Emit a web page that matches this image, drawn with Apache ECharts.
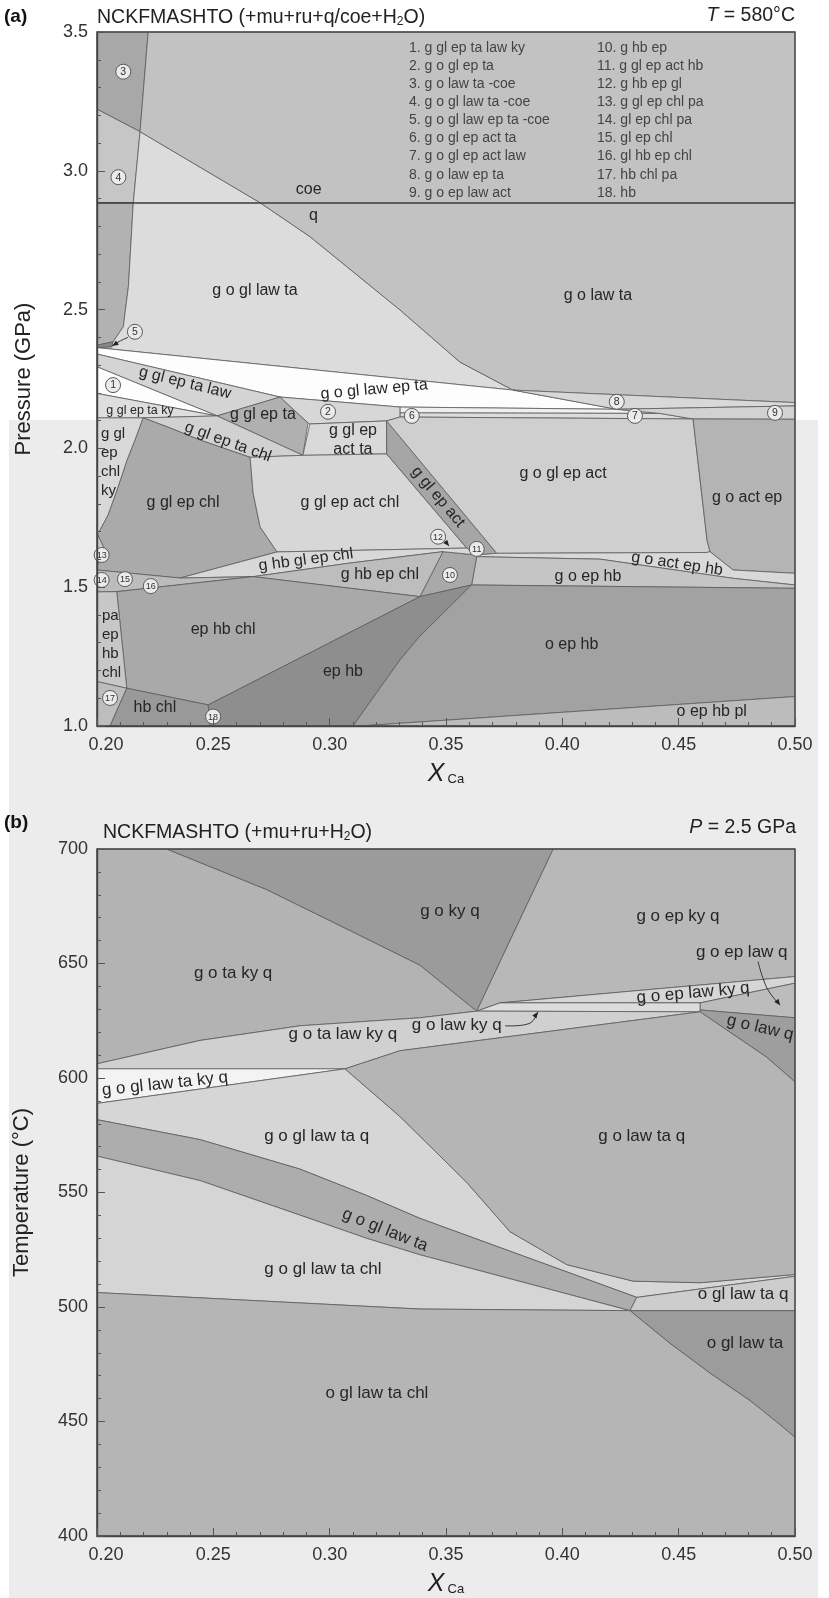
<!DOCTYPE html>
<html><head><meta charset="utf-8">
<script src="https://cdn.jsdelivr.net/npm/echarts@6.0.0/dist/echarts.min.js"></script>
<style>html,body{margin:0;padding:0;background:#fff;}#c{width:829px;height:1598px;}</style>
</head><body><div id="c"></div>
<script>
// ---------- axis ranges ----------
const xRange = [0.20, 0.50];
const pRange = [1.0, 3.5];
const tRange = [400, 700];
const coeQ = [[0.20, 2.884], [0.50, 2.884]];

// ---------- panel (a): field polygons [XCa, P(GPa)] ----------
const A_r3 = [[0.2,3.5],[0.2220,3.5],[0.2185,3.141],[0.2,3.222]];
const A_r4a = [[0.2,3.222],[0.2185,3.141],[0.2156,2.885],[0.2,2.885]];
const A_r4b = [[0.2,2.885],[0.2156,2.885],[0.2135,2.583],[0.2113,2.438],[0.2069,2.384],[0.2,2.372]];
const A_r5 = [[0.2,2.372],[0.2069,2.384],[0.2064,2.365],[0.2,2.363]];
const A_goglLawTa = [[0.2185,3.141],[0.2701,2.885],[0.2915,2.763],[0.3302,2.499],[0.3560,2.311],[0.3788,2.210],[0.2,2.363],[0.2064,2.365],[0.2069,2.384],[0.2113,2.438],[0.2135,2.583],[0.2156,2.885]];
const A_goLawTa = [[0.2220,3.5],[0.5,3.5],[0.5,2.165],[0.3788,2.210],[0.3560,2.311],[0.3302,2.499],[0.2915,2.763],[0.2701,2.885],[0.2185,3.141]];
const A_goglLawEpTa = [[0.2,2.363],[0.3788,2.210],[0.4234,2.141],[0.3302,2.149],[0.2787,2.185],[0.2,2.340]];
const A_r8 = [[0.3788,2.210],[0.5,2.165],[0.5,2.153],[0.4234,2.141]];
const A_r6 = [[0.3302,2.149],[0.4234,2.141],[0.4420,2.126],[0.3302,2.128]];
const A_r7 = [[0.3302,2.128],[0.4420,2.126],[0.4562,2.106],[0.3302,2.113]];
const A_r9 = [[0.4234,2.141],[0.5,2.153],[0.5,2.105],[0.4562,2.106],[0.4420,2.126]];
const A_gglEpTaLaw = [[0.2,2.340],[0.2787,2.185],[0.2516,2.117],[0.2,2.294]];
const A_r1 = [[0.2,2.294],[0.2516,2.117],[0.2,2.198]];
const A_gglEpTaKy = [[0.2,2.198],[0.2516,2.117],[0.2198,2.110],[0.2,2.110]];
const A_gglEpTa = [[0.2516,2.117],[0.2787,2.185],[0.2907,2.092],[0.2885,1.975]];
const A_r2 = [[0.2787,2.185],[0.3302,2.149],[0.3302,2.113],[0.3245,2.099],[0.2915,2.088],[0.2907,2.092]];
const A_gglEpActTa = [[0.2915,2.088],[0.3245,2.099],[0.3245,1.980],[0.2885,1.975]];
const A_gglEpTaChl = [[0.2198,2.110],[0.2516,2.117],[0.2885,1.975],[0.2658,1.968],[0.2443,2.030],[0.2301,2.078]];
const A_gglEpChl = [[0.2198,2.110],[0.2301,2.078],[0.2443,2.030],[0.2658,1.968],[0.2671,1.839],[0.2701,1.717],[0.2774,1.627],[0.2357,1.533],[0.2,1.562],[0.2,1.576],[0.2030,1.641],[0.2,1.695],[0.2013,1.706],[0.2047,1.760],[0.2086,1.850],[0.2129,1.958],[0.2163,2.030]];
const A_gglEpChlKy = [[0.2,2.110],[0.2198,2.110],[0.2163,2.030],[0.2129,1.958],[0.2086,1.850],[0.2047,1.760],[0.2013,1.706],[0.2,1.695]];
const A_r13 = [[0.2,1.695],[0.2030,1.641],[0.2,1.576]];
const A_gglEpActChl = [[0.2658,1.968],[0.2885,1.975],[0.3245,1.980],[0.3589,1.641],[0.2774,1.627],[0.2701,1.717],[0.2671,1.839]];
const A_gglEpAct = [[0.3245,2.099],[0.3718,1.622],[0.3632,1.616],[0.3589,1.641],[0.3245,1.980]];
const A_goglEpAct = [[0.3245,2.099],[0.3302,2.113],[0.4562,2.106],[0.4622,1.670],[0.4635,1.628],[0.4620,1.625],[0.3718,1.622]];
const A_goActEp = [[0.4562,2.106],[0.5,2.105],[0.5,1.550],[0.4734,1.562],[0.4635,1.628],[0.4622,1.670]];
const A_goActEpHb = [[0.3632,1.616],[0.3718,1.622],[0.4620,1.625],[0.4635,1.628],[0.4734,1.562],[0.5,1.550],[0.5,1.508],[0.4734,1.532],[0.4162,1.601],[0.3632,1.610]];
const A_goEpHb = [[0.3632,1.610],[0.4162,1.601],[0.4734,1.532],[0.5,1.508],[0.5,1.496],[0.3610,1.508]];
const A_r10 = [[0.3487,1.628],[0.3632,1.616],[0.3632,1.610],[0.3610,1.508],[0.3388,1.466]];
const A_ghbglEpChl = [[0.2357,1.533],[0.2774,1.627],[0.3589,1.641],[0.3632,1.616],[0.3487,1.628],[0.3087,1.587],[0.2671,1.538]];
const A_ghbEpChl = [[0.2671,1.538],[0.3087,1.587],[0.3487,1.628],[0.3388,1.466]];
const A_r141516 = [[0.2,1.562],[0.2357,1.533],[0.2671,1.538],[0.2085,1.484],[0.2,1.483]];
const A_epHbChl = [[0.2085,1.484],[0.2671,1.538],[0.3388,1.466],[0.2478,1.076],[0.2128,1.136]];
const A_paEpHbChl = [[0.2,1.483],[0.2085,1.484],[0.2128,1.136],[0.2,1.160]];
const A_r17 = [[0.2,1.160],[0.2128,1.136],[0.2056,1.0],[0.2,1.0]];
const A_hbChl = [[0.2128,1.136],[0.2478,1.076],[0.2486,1.0],[0.2056,1.0]];
const A_epHb = [[0.3388,1.466],[0.3610,1.508],[0.3388,1.324],[0.3302,1.238],[0.3100,1.0],[0.2486,1.0],[0.2478,1.076]];
const A_oEpHb = [[0.3610,1.508],[0.5,1.496],[0.5,1.106],[0.3130,1.0],[0.3100,1.0],[0.3302,1.238],[0.3388,1.324]];
const A_oEpHbPl = [[0.3130,1.0],[0.5,1.106],[0.5,1.0]];

const panelA = [
  ['r3',A_r3],['r4a',A_r4a],['r4b',A_r4b],['r5',A_r5],['goglLawTa',A_goglLawTa],['goLawTa',A_goLawTa],
  ['goglLawEpTa',A_goglLawEpTa],['r8',A_r8],['r6',A_r6],['r7',A_r7],['r9',A_r9],['gglEpTaLaw',A_gglEpTaLaw],
  ['r1',A_r1],['gglEpTaKy',A_gglEpTaKy],['gglEpTa',A_gglEpTa],['r2',A_r2],['gglEpActTa',A_gglEpActTa],
  ['gglEpTaChl',A_gglEpTaChl],['gglEpChl',A_gglEpChl],['gglEpChlKy',A_gglEpChlKy],['r13',A_r13],
  ['gglEpActChl',A_gglEpActChl],['gglEpAct',A_gglEpAct],['goglEpAct',A_goglEpAct],['goActEp',A_goActEp],
  ['goActEpHb',A_goActEpHb],['goEpHb',A_goEpHb],['r10',A_r10],['ghbglEpChl',A_ghbglEpChl],['ghbEpChl',A_ghbEpChl],
  ['r141516',A_r141516],['epHbChl',A_epHbChl],['paEpHbChl',A_paEpHbChl],['r17',A_r17],['hbChl',A_hbChl],
  ['epHb',A_epHb],['oEpHb',A_oEpHb],['oEpHbPl',A_oEpHbPl]
];

// ---------- panel (b): field polygons [XCa, T(°C)] ----------
const B_goTaKyQ = [[0.2,700],[0.2300,700],[0.2729,682.3],[0.3014,668.1],[0.3388,649.3],[0.3632,629.2],[0.3388,626.3],[0.2873,622.8],[0.2443,616.4],[0.2,606.2]];
const B_goKyQ = [[0.2300,700],[0.3961,700],[0.3632,629.2],[0.3388,649.3],[0.3014,668.1],[0.2729,682.3]];
const B_goEpKyQ = [[0.3961,700],[0.5,700],[0.5,644.3],[0.3732,632.8],[0.3632,629.2]];
const B_goEpLawKyQ = [[0.3732,632.8],[0.5,644.3],[0.5,641.4],[0.4592,632.8]];
const B_goEpLawQ = [[0.4592,632.8],[0.5,641.4],[0.5,626.3],[0.4592,629.7]];
const B_goLawKyQ = [[0.3632,629.2],[0.3732,632.8],[0.4592,632.8],[0.4592,628.9]];
const B_goLawQ = [[0.4592,629.7],[0.5,626.3],[0.5,598.3],[0.4878,609.1],[0.4592,628.9]];
const B_goTaLawKyQ = [[0.2,606.2],[0.2443,616.4],[0.2873,622.8],[0.3388,626.3],[0.3632,629.2],[0.4592,628.9],[0.3302,611.9],[0.3066,604.0],[0.2,604.0]];
const B_goglLawTaKyQ = [[0.2,604.0],[0.3066,604.0],[0.2,588.9]];
const B_goglLawTaQ = [[0.2,588.9],[0.3066,604.0],[0.3302,583.2],[0.3388,574.6],[0.3589,554.4],[0.3775,532.9],[0.4019,518.5],[0.4304,511.3],[0.4592,510.6],[0.5,514.2],[0.5,513.4],[0.4320,504.2],[0.3388,538.7],[0.3159,548.7],[0.2873,560.2],[0.2443,573.1],[0.2,581.8]];
const B_goLawTaQ = [[0.3066,604.0],[0.3302,611.9],[0.4592,628.9],[0.4878,609.1],[0.5,598.3],[0.5,514.2],[0.4592,510.6],[0.4304,511.3],[0.4019,518.5],[0.3775,532.9],[0.3589,554.4],[0.3388,574.6],[0.3302,583.2]];
const B_goglLawTa = [[0.2,581.8],[0.2443,573.1],[0.2873,560.2],[0.3159,548.7],[0.3388,538.7],[0.4320,504.2],[0.4291,498.4],[0.3388,522.8],[0.3159,530.0],[0.2873,540.1],[0.2443,555.2],[0.2,565.9]];
const B_oglLawTaQ = [[0.4320,504.2],[0.5,513.4],[0.5,498.4],[0.4291,498.4]];
const B_goglLawTaChl = [[0.2,565.9],[0.2443,555.2],[0.2873,540.1],[0.3159,530.0],[0.3388,522.8],[0.4291,498.4],[0.3388,499.1],[0.2,506.3]];
const B_oglLawTa = [[0.4291,498.4],[0.5,498.4],[0.5,443.1],[0.4914,450.4],[0.4807,459.1],[0.4635,471.1],[0.4463,484.1]];
const B_oglLawTaChl = [[0.2,506.3],[0.3388,499.1],[0.4291,498.4],[0.4463,484.1],[0.4635,471.1],[0.4807,459.1],[0.4914,450.4],[0.5,443.1],[0.5,400],[0.2,400]];

const panelB = [
  ['goTaKyQ',B_goTaKyQ],['goKyQ',B_goKyQ],['goEpKyQ',B_goEpKyQ],['goEpLawKyQ',B_goEpLawKyQ],['goEpLawQ',B_goEpLawQ],
  ['goLawKyQ',B_goLawKyQ],['goLawQ',B_goLawQ],['goTaLawKyQ',B_goTaLawKyQ],['goglLawTaKyQ',B_goglLawTaKyQ],
  ['goglLawTaQ',B_goglLawTaQ],['goLawTaQ',B_goLawTaQ],['goglLawTa',B_goglLawTa],['oglLawTaQ',B_oglLawTaQ],
  ['goglLawTaChl',B_goglLawTaChl],['oglLawTa',B_oglLawTa],['oglLawTaChl',B_oglLawTaChl]
];

// ---------- labels [text, XCa, P or T] ----------
const labelsA = [
  ['coe',0.291,2.931],['q',0.293,2.837],['g o gl law ta',0.2679,2.567],['g o law ta',0.4153,2.549],
  ['g o gl law ep ta',0.3191,2.212],['g gl ep ta law',0.2378,2.236],['g gl ep ta',0.2713,2.120],
  ['g gl ep ta chl',0.2563,2.023],['g gl ep\nact ta',0.3100,2.030],['g gl ep chl',0.2370,1.803],
  ['g gl ep act chl',0.3087,1.803],['g gl ep act',0.3466,1.825],['g o gl ep act',0.4003,1.911],
  ['g o act ep',0.4794,1.821],['g hb gl ep chl',0.2898,1.598],['g hb ep chl',0.3216,1.544],
  ['g o act ep hb',0.4493,1.584],['g o ep hb',0.4110,1.538],['ep hb chl',0.2542,1.346],['ep hb',0.3057,1.196],
  ['o ep hb',0.4040,1.292],['o ep hb pl',0.4642,1.052],['hb chl',0.2249,1.065]
];
const smallLabelsA = [['g gl ep ta ky',0.2185,2.138]];
const stackLabelsA = [['g gl\nep\nchl\nky',0.2017,1.951],['pa\nep\nhb\nchl',0.2021,1.295]];
const circlesA = [
  [1,0.2069,2.228],[2,0.2993,2.132],[3,0.2113,3.357],[4,0.2092,2.977],[5,0.2163,2.420],[6,0.3353,2.117],
  [7,0.4312,2.117],[8,0.4234,2.168],[9,0.4914,2.128],[10,0.3517,1.544],[11,0.3632,1.638],[12,0.3466,1.682],
  [13,0.2020,1.616],[14,0.2020,1.526],[15,0.2120,1.529],[16,0.2231,1.504],[17,0.2056,1.101],[18,0.2499,1.034]
];
const leadersA = [
  [[0.2133,2.400],[0.2095,2.385],[0.2066,2.369]],
  [[0.3490,1.672],[0.3513,1.648]]
];
const legendA = [
  '1. g gl ep ta law ky','2. g o gl ep ta','3. g o law ta -coe','4. g o gl law ta -coe','5. g o gl law ep ta -coe',
  '6. g o gl ep act ta','7. g o gl ep act law','8. g o law ep ta','9. g o ep law act',
  '10. g hb ep','11. g gl ep act hb','12. g hb ep gl','13. g gl ep chl pa','14. gl ep chl pa',
  '15. gl ep chl','16. gl hb ep chl','17. hb chl pa','18. hb'
];

const labelsB = [
  ['g o ky q',0.3517,673.0],['g o ep ky q',0.4497,670.8],['g o ta ky q',0.2585,645.7],['g o ep law q',0.4771,655.0],
  ['g o ep law ky q',0.4562,637.1],['g o law ky q',0.3546,622.8],['g o ta law ky q',0.3057,619.1],
  ['g o law q',0.4850,622.0],['g o gl law ta ky q',0.2292,597.4],['g o gl law ta q',0.2944,574.6],
  ['g o law ta q',0.4341,574.6],['g o gl law ta',0.3238,533.6],['g o gl law ta chl',0.2971,516.4],
  ['o gl law ta q',0.4777,505.6],['o gl law ta',0.4785,484.1],['o gl law ta chl',0.3203,462.5]
];
const leadersB = [
  [[0.3754,622.8],[0.3860,623.9],[0.3895,628.8]],
  [[0.4841,650.9],[0.4880,639.2],[0.4936,631.8]]
];

// ---------- styles ----------
const FONT = "'Liberation Sans', Arial, Helvetica, sans-serif";
const fillA = {r3:'#a8a8a8',r4a:'#c6c6c6',r4b:'#b2b2b2',r5:'#888888',goglLawTa:'#dcdcdc',goLawTa:'#c2c2c2',
  goglLawEpTa:'#fdfdfd',r8:'#d8d8d8',r6:'#efefef',r7:'#dcdcdc',r9:'#d2d2d2',gglEpTaLaw:'#d4d4d4',r1:'#fdfdfd',
  gglEpTaKy:'#dedede',gglEpTa:'#b0b0b0',r2:'#d7d7d7',gglEpActTa:'#d9d9d9',gglEpTaChl:'#d1d1d1',gglEpChl:'#aaaaaa',
  gglEpChlKy:'#d8d8d8',r13:'#c8c8c8',gglEpActChl:'#d7d7d7',gglEpAct:'#a6a6a6',goglEpAct:'#cfcfcf',goActEp:'#b4b4b4',
  goActEpHb:'#d9d9d9',goEpHb:'#c5c5c5',r10:'#a9a9a9',ghbglEpChl:'#d8d8d8',ghbEpChl:'#bdbdbd',r141516:'#bcbcbc',
  epHbChl:'#a9a9a9',paEpHbChl:'#c7c7c7',r17:'#bdbdbd',hbChl:'#999999',epHb:'#8e8e8e',oEpHb:'#a2a2a2',oEpHbPl:'#bcbcbc'};
const fillB = {goTaKyQ:'#b3b3b3',goKyQ:'#9b9b9b',goEpKyQ:'#b8b8b8',goEpLawKyQ:'#d6d6d6',goEpLawQ:'#bcbcbc',
  goLawKyQ:'#dcdcdc',goLawQ:'#9e9e9e',goTaLawKyQ:'#d0d0d0',goglLawTaKyQ:'#f3f3f3',goglLawTaQ:'#d6d6d6',
  goLawTaQ:'#b5b5b5',goglLawTa:'#adadad',oglLawTaQ:'#cdcdcd',goglLawTaChl:'#d5d5d5',oglLawTa:'#9c9c9c',oglLawTaChl:'#b5b5b5'};
const rotA = {'g o gl law ep ta':-5,'g gl ep ta law':14,'g gl ep ta chl':20,'g gl ep act':50,'g hb gl ep chl':-7.5,'g o act ep hb':8.5};
const rotB = {'g o ep law ky q':-5,'g o law q':13,'g o gl law ta ky q':-6,'g o gl law ta':22};

// ---------- series builders ----------
function polySeries(gi, list, fills){
  return {type:'custom', xAxisIndex:gi, yAxisIndex:gi, z:2, silent:true, animation:false,
    data:list.map(r=>r[1][0]),
    renderItem:(p,api)=>{const r=list[p.dataIndex];
      return {type:'polygon', shape:{points:r[1].map(q=>api.coord(q))},
        style:{fill:fills[r[0]], stroke:'#5c5c5c', lineWidth:0.8}};}};
}
function labelSeries(gi, list, rot, size, align, lh){
  return {type:'custom', xAxisIndex:gi, yAxisIndex:gi, z:6, silent:true, animation:false,
    data:list.map(l=>[l[1],l[2]]),
    renderItem:(p,api)=>{const l=list[p.dataIndex]; const c=api.coord([l[1],l[2]]); const d=(rot&&rot[l[0]])||0;
      return {type:'text', x:c[0], y:c[1], rotation:-d*Math.PI/180,
        style:{text:l[0], fill:'#262626', fontSize:size, fontFamily:FONT, align:align||'center', textAlign:align||'center',
          verticalAlign:'middle', textVerticalAlign:'middle', lineHeight:lh||size*1.2}};}};
}
function circleSeries(gi, list){
  return {type:'custom', xAxisIndex:gi, yAxisIndex:gi, z:7, silent:true, animation:false,
    data:list.map(l=>[l[1],l[2]]),
    renderItem:(p,api)=>{const l=list[p.dataIndex]; const c=api.coord([l[1],l[2]]);
      return {type:'group', children:[
        {type:'circle', shape:{cx:c[0], cy:c[1], r:7.5}, style:{fill:'#ebebeb', stroke:'#5a5a5a', lineWidth:1}},
        {type:'text', style:{text:String(l[0]), x:c[0], y:c[1]+0.5, fill:'#333', fontSize:l[0]>9?9:10.5, fontFamily:FONT,
          align:'center', textAlign:'center', verticalAlign:'middle', textVerticalAlign:'middle'}}]};}};
}
function leaderSeries(gi, list){
  return {type:'custom', xAxisIndex:gi, yAxisIndex:gi, z:7, silent:true, animation:false,
    data:list.map(l=>l[0]),
    renderItem:(p,api)=>{const pts=list[p.dataIndex].map(q=>api.coord(q)); const n=pts.length;
      const a=pts[n-2], b=pts[n-1]; const ang=Math.atan2(b[1]-a[1], b[0]-a[0]); const L=6, W=2.6;
      const h=[[b[0],b[1]],[b[0]-L*Math.cos(ang)+W*Math.sin(ang), b[1]-L*Math.sin(ang)-W*Math.cos(ang)],
               [b[0]-L*Math.cos(ang)-W*Math.sin(ang), b[1]-L*Math.sin(ang)+W*Math.cos(ang)]];
      return {type:'group', children:[
        {type:'polyline', shape:{points:pts, smooth:0.4}, style:{stroke:'#333', lineWidth:1, fill:null}},
        {type:'polygon', shape:{points:h}, style:{fill:'#222'}}]};}};
}
function lineSeries(gi, pts, w){
  return {type:'custom', xAxisIndex:gi, yAxisIndex:gi, z:5, silent:true, animation:false, data:[pts[0]],
    renderItem:(p,api)=>({type:'polyline', shape:{points:pts.map(q=>api.coord(q))}, style:{stroke:'#3a3a3a', lineWidth:w, fill:null}})};
}
function frameSeries(gi, yr){
  return {type:'custom', xAxisIndex:gi, yAxisIndex:gi, z:9, silent:true, animation:false, data:[[xRange[0],yr[1]]],
    renderItem:(p,api)=>{const a=api.coord([xRange[0],yr[1]]), b=api.coord([xRange[1],yr[0]]);
      return {type:'rect', shape:{x:a[0], y:a[1], width:b[0]-a[0], height:b[1]-a[1]}, style:{fill:null, stroke:'#4a4a4a', lineWidth:1.4}};}};
}

function xAxisCfg(gi){
  return {type:'value', gridIndex:gi, min:xRange[0], max:xRange[1], interval:0.05, z:10,
    axisLine:{show:true, lineStyle:{color:'#444', width:1.4}},
    axisTick:{show:true, inside:true, length:8, lineStyle:{color:'#555', width:1}},
    minorTick:{show:true, splitNumber:5, length:4, lineStyle:{color:'#555', width:1}},
    splitLine:{show:false},
    axisLabel:{fontSize:18, color:'#333', fontFamily:FONT, margin:10,
      formatter:(v,i)=> i===0 ? '{f|'+v.toFixed(2)+'}' : v.toFixed(2),
      rich:{f:{fontSize:18, color:'#333', fontFamily:FONT, padding:[0,0,0,18]}}},
    name:'{x|X}{c|Ca}', nameLocation:'middle', nameGap:36,
    nameTextStyle:{rich:{x:{fontSize:25, fontStyle:'italic', fontFamily:FONT, color:'#222'},
                         c:{fontSize:13, fontFamily:FONT, color:'#222', padding:[10,0,0,3]}}}};
}
function yAxisCfg(gi, yr, iv, name, dec, gap){
  return {type:'value', gridIndex:gi, min:yr[0], max:yr[1], interval:iv, z:10,
    axisLine:{show:true, lineStyle:{color:'#444', width:1.4}},
    axisTick:{show:true, inside:true, length:8, lineStyle:{color:'#555', width:1}},
    minorTick:{show:true, splitNumber:5, length:4, lineStyle:{color:'#555', width:1}},
    splitLine:{show:false},
    axisLabel:{fontSize:18, color:'#333', fontFamily:FONT, margin:9, formatter:v=>v.toFixed(dec)},
    name:name, nameLocation:'middle', nameGap:gap, nameRotate:90,
    nameTextStyle:{fontSize:22, color:'#222', fontFamily:FONT}};
}

const legendGraphics = legendA.map((t,i)=>({type:'text', x:i<9?409:597, y:48.3+(i%9)*18.05, z:20,
  style:{text:t, fill:'#444', fontSize:14, fontFamily:FONT, align:'left', verticalAlign:'middle'}}));

const chart = echarts.init(document.getElementById('c'), null, {renderer:'canvas', width:829, height:1598});
chart.setOption({
  backgroundColor:'#ffffff',
  animation:false,
  grid:[{left:97, top:32, width:698, height:694}, {left:97, top:849, width:698, height:696}],
  xAxis:[xAxisCfg(0), xAxisCfg(1)],
  yAxis:[yAxisCfg(0, pRange, 0.5, 'Pressure (GPa)', 1, 62), yAxisCfg(1, tRange, 50, 'Temperature (°C)', 0, 64)],
  graphic:[
    {type:'rect', z:-10, silent:true, shape:{x:9, y:420, width:809, height:1178}, style:{fill:'#ececec'}},
    {type:'text', x:4, y:17, z:20, style:{text:'(a)', fontSize:19, fontWeight:'bold', fontFamily:FONT, fill:'#111', verticalAlign:'middle'}},
    {type:'text', x:97, y:18, z:20, style:{text:'NCKFMASHTO (+mu+ru+q/coe+H{s|2}O)', fontSize:19.5, fontFamily:FONT, fill:'#222', verticalAlign:'middle',
      rich:{s:{fontSize:12, fontFamily:FONT, fill:'#222', padding:[7,0,0,0]}}}},
    {type:'text', x:795, y:16, z:20, style:{text:'{i|T} = 580°C', fontSize:19.5, fontFamily:FONT, fill:'#222', align:'right', verticalAlign:'middle',
      rich:{i:{fontSize:19.5, fontStyle:'italic', fontFamily:FONT, fill:'#222'}}}},
    {type:'text', x:4, y:823, z:20, style:{text:'(b)', fontSize:19, fontWeight:'bold', fontFamily:FONT, fill:'#111', verticalAlign:'middle'}},
    {type:'text', x:103, y:833, z:20, style:{text:'NCKFMASHTO (+mu+ru+H{s|2}O)', fontSize:19.5, fontFamily:FONT, fill:'#222', verticalAlign:'middle',
      rich:{s:{fontSize:12, fontFamily:FONT, fill:'#222', padding:[7,0,0,0]}}}},
    {type:'text', x:796, y:828, z:20, style:{text:'{i|P} = 2.5 GPa', fontSize:19.5, fontFamily:FONT, fill:'#222', align:'right', verticalAlign:'middle',
      rich:{i:{fontSize:19.5, fontStyle:'italic', fontFamily:FONT, fill:'#222'}}}}
  ].concat(legendGraphics),
  series:[
    polySeries(0, panelA, fillA),
    lineSeries(0, coeQ, 1.4),
    labelSeries(0, labelsA, rotA, 16),
    labelSeries(0, smallLabelsA, null, 12.5),
    labelSeries(0, stackLabelsA, null, 15, 'left', 19),
    leaderSeries(0, leadersA),
    circleSeries(0, circlesA),
    frameSeries(0, pRange),
    polySeries(1, panelB, fillB),
    labelSeries(1, labelsB, rotB, 17),
    leaderSeries(1, leadersB),
    frameSeries(1, tRange)
  ]
});
</script></body></html>
